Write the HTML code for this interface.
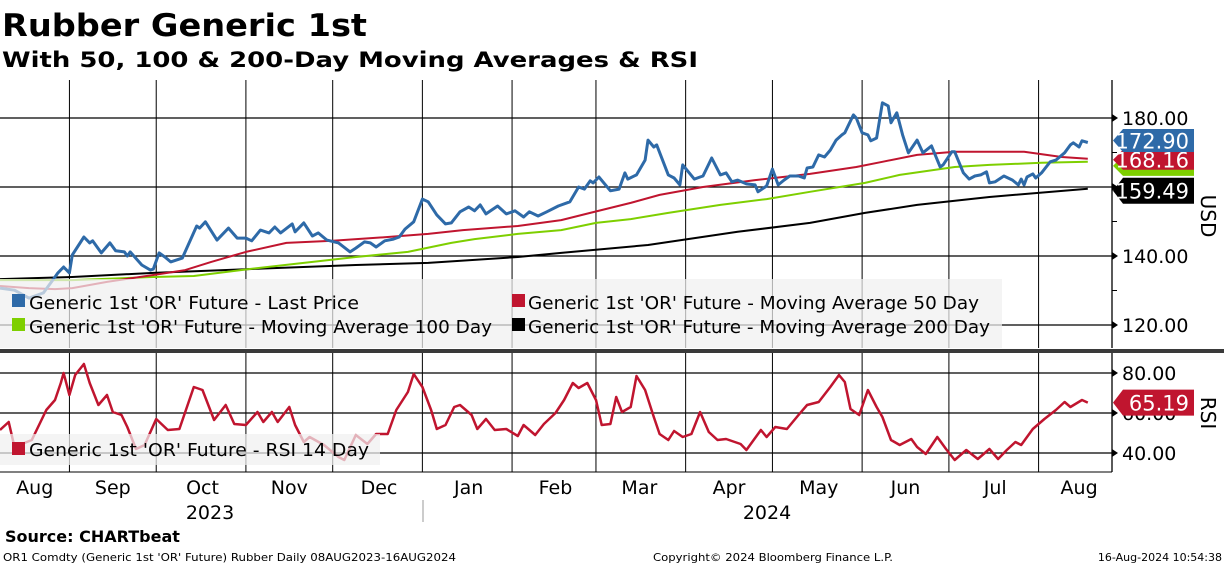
<!DOCTYPE html>
<html><head><meta charset="utf-8"><style>
body{margin:0;background:#fff;}
svg{display:block;font-family:"DejaVu Sans","Liberation Sans",sans-serif;}
</style></head><body>
<svg id="chart" width="1224" height="566" viewBox="0 0 1224 566" xmlns="http://www.w3.org/2000/svg">
<text x="2" y="36" font-size="31" font-weight="bold" textLength="365" lengthAdjust="spacingAndGlyphs">Rubber Generic 1st</text>
<text x="2" y="67" font-size="21" font-weight="bold" textLength="696" lengthAdjust="spacingAndGlyphs">With 50, 100 &amp; 200-Day Moving Averages &amp; RSI</text>
<g id="grid"></g>
<g id="series"></g>
<g id="legend1">
<rect x="0" y="279" width="1002" height="69" fill="#f0f0f0" fill-opacity="0.72"/>
<rect x="12" y="294" width="13" height="13" fill="#2e6aa8"/>
<text x="29" y="309" font-size="18" textLength="330" lengthAdjust="spacingAndGlyphs">Generic 1st 'OR' Future - Last Price</text>
<rect x="12" y="318" width="13" height="13" fill="#7ecf00"/>
<text x="29" y="333" font-size="18" textLength="463" lengthAdjust="spacingAndGlyphs">Generic 1st 'OR' Future - Moving Average 100 Day</text>
<rect x="512" y="294" width="13" height="13" fill="#c0152f"/>
<text x="528" y="309" font-size="18" textLength="451" lengthAdjust="spacingAndGlyphs">Generic 1st 'OR' Future - Moving Average 50 Day</text>
<rect x="512" y="318" width="13" height="13" fill="#000"/>
<text x="528" y="333" font-size="18" textLength="462" lengthAdjust="spacingAndGlyphs">Generic 1st 'OR' Future - Moving Average 200 Day</text>
</g>
<g id="legend2">
<rect x="0" y="434" width="380" height="31" fill="#f0f0f0" fill-opacity="0.72"/>
<rect x="12" y="442" width="13" height="13" fill="#c0152f"/>
<text x="29" y="456" font-size="18" textLength="340" lengthAdjust="spacingAndGlyphs">Generic 1st 'OR' Future - RSI 14 Day</text>
</g>
<rect x="0" y="349" width="1224" height="4" fill="#3a3a3a"/>
<g id="axes"></g>
<text transform="translate(1201,216) rotate(90)" font-size="20" text-anchor="middle">USD</text>
<text transform="translate(1201,413) rotate(90)" font-size="20" text-anchor="middle">RSI</text>
<line x1="423" y1="500" x2="423" y2="522" stroke="#999"/>
<text x="210" y="519" font-size="19" text-anchor="middle">2023</text>
<text x="767" y="519" font-size="19" text-anchor="middle">2024</text>
<text x="5" y="542" font-size="16" font-weight="bold">Source: CHARTbeat</text>
<text x="3" y="561" font-size="11" textLength="453" lengthAdjust="spacingAndGlyphs">OR1 Comdty (Generic 1st 'OR' Future) Rubber  Daily 08AUG2023-16AUG2024</text>
<text x="653" y="561" font-size="11" textLength="240" lengthAdjust="spacingAndGlyphs">Copyright© 2024 Bloomberg Finance L.P.</text>
<text x="1222" y="561" font-size="11" text-anchor="end">16-Aug-2024 10:54:38</text>
</svg>
<script>
const priceDays=[0,5,10,15,19,20,22,24,25,29,31,32,35,38,40,43,44,45,49,52,53,55,57,59,63,68,69,71,75,79,82,85,87,90,93,95,97,101,102,105,108,110,113,117,121,123,126,128,130,133,136,138,140,143,146,148,151,154,156,159,162,164,166,168,172,175,178,181,183,186,189,193,197,200,202,204,205,207,211,214,216,217,220,223,224,226,227,231,233,235,236,240,242,243,246,249,251,253,255,258,261,262,265,267,269,271,273,276,278,279,281,283,285,287,289,291,292,295,296,298,300,301,303,305,307,308,310,312,314,317,319,322,325,326,329,330,333,335,337,339,341,342,344,347,350,352,353,354,355,357,358,360,363,365,368,370,371,373,374,376];
const priceVals=[130.7,130.1,127.8,129.3,133.9,135.1,136.8,135.1,140.3,145.5,143.8,144.4,140.9,143.8,141.5,141.2,140.0,141.2,137.4,135.9,136.2,140.9,139.7,138.3,139.4,148.7,148.1,149.9,144.6,148.1,145.2,145.2,144.4,147.5,146.7,148.4,146.7,149.3,147.0,149.6,145.8,146.7,144.6,143.8,141.2,142.3,144.1,143.8,142.6,144.4,144.9,145.5,147.8,149.9,156.5,155.7,151.9,149.3,149.6,152.8,154.2,153.1,154.8,152.2,154.5,152.2,153.1,151.3,152.8,151.6,152.8,154.5,155.7,160.0,159.4,161.8,161.2,162.9,158.9,159.4,164.1,162.3,163.5,167.8,173.6,171.6,172.2,163.5,162.6,160.6,166.4,162.3,162.9,163.2,168.4,163.5,164.1,161.5,162.0,160.9,160.6,158.6,160.3,165.2,160.6,162.0,163.2,163.2,162.6,165.5,165.8,169.3,168.7,170.7,173.6,175.1,175.7,180.9,180.0,175.7,175.1,173.4,174.2,184.4,183.5,178.6,181.5,175.1,169.9,173.6,169.9,171.9,165.8,166.4,170.2,170.2,164.1,162.3,163.2,163.5,164.4,161.2,161.5,163.2,162.0,160.6,162.3,160.6,162.9,163.8,162.6,164.1,167.3,167.8,169.9,172.2,172.8,171.6,173.4,172.9];
const ma50Days=[0,10,19,25,37,53,64,73,85,99,115,134,148,160,179,194,204,218,228,243,261,280,296,305,317,330,354,367,376];
const ma50Vals=[131.3,130.7,130.4,130.7,132.5,134.5,135.9,138.3,141.2,143.8,144.4,145.5,146.4,147.5,148.7,150.4,152.5,155.4,157.7,160.0,162.0,163.8,165.8,167.3,169.3,170.2,170.2,168.7,168.2];
const ma100Days=[0,25,53,67,86,105,123,141,156,164,179,194,206,218,231,249,265,280,299,311,330,342,360,376];
const ma100Vals=[133.0,133.0,133.9,134.2,136.2,138.0,139.7,141.2,143.8,144.9,146.4,147.5,149.6,150.7,152.5,154.8,156.5,158.6,161.2,163.5,165.8,166.4,167.0,167.3];
const ma200Days=[0,25,53,86,123,148,179,194,224,255,280,299,317,342,376];
const ma200Vals=[133.3,133.9,135.1,136.2,137.4,138.0,139.7,140.9,143.2,147.0,149.6,152.5,154.8,157.1,159.5];
const rsiDays=[0,3,5,11,16,19,21,22,24,26,29,31,34,37,39,42,44,47,50,54,58,62,67,70,74,78,81,85,89,91,94,96,100,102,105,107,112,117,119,123,127,130,134,137,141,143,146,149,151,154,157,159,163,165,168,171,175,179,181,185,188,192,195,198,200,203,206,208,211,213,215,218,220,223,226,228,231,233,236,239,242,245,248,251,254,256,258,260,263,265,268,272,276,279,283,287,290,292,294,297,300,303,305,308,311,315,317,320,324,327,330,334,338,342,345,348,351,353,357,361,365,368,370,374,376];
const rsiVals=[51.5,55.5,43,46.5,61.5,66.5,75,80,69,79,84.5,75,64,69,60.5,59,53,42,44,57,51.5,52,73,71.5,56.5,64,54.5,54,60.5,55.5,60.5,55.5,63,54,45.5,48,44,38,36.5,49,44.5,49.5,49.5,61.5,70.5,79.5,73,61.5,52,54,63,64,59,52,57,51.5,52,48.5,54,49,54.5,60,66.5,75,72.5,75,66.5,54,54.5,68,60.5,63,78.5,71.5,58,49.5,46.5,51,48,49.5,60.5,50.5,46.5,47,45.5,44.5,41.5,45.5,51.5,48,53,52,59,64,65.5,73,79,75.5,62,59,71.5,63,58,46.5,44,47,43,39.5,48,42,36.5,41.5,37,42,37,41.5,45.5,44,52,57,61.5,65.5,63,66.5,65.2];
const priceTicks=[180,160,140,120];
const priceMinor=[170,150,130];
const rsiTicks=[80,60,40];
const monthLabels=["Aug","Sep","Oct","Nov","Dec","Jan","Feb","Mar","Apr","May","Jun","Jul","Aug"];
const monthStartDays=[24,54,85,115,146,177,206,237,267,298,328,359];
const monthMidDays=[12,39,70,100,131,162,192,221,252,283,313,344,373];

const NS="http://www.w3.org/2000/svg";
const PL=0,PR=1112;
const xS=d=>PL+d*2.893;
const yP=v=>256-(v-140)*3.45;
const yR=v=>413-(v-60)*2;
function mk(tag,attrs,parent){const e=document.createElementNS(NS,tag);for(const k in attrs)e.setAttribute(k,attrs[k]);parent.appendChild(e);return e;}
const grid=document.getElementById('grid'),series=document.getElementById('series'),axes=document.getElementById('axes');
// vertical gridlines
monthStartDays.forEach(d=>{
  const l=mk('line',{x1:xS(d),x2:xS(d),y1:80,y2:348,stroke:'#000','stroke-width':1},grid);
  
  
  const l2=mk('line',{x1:xS(d),x2:xS(d),y1:353,y2:472,stroke:'#000','stroke-width':1},grid);
  
  
});
priceTicks.forEach(v=>{
  const l=mk('line',{x1:PL,x2:PR,y1:yP(v),y2:yP(v),stroke:'#000','stroke-width':1.3},grid);
  
  
  const t=mk('text',{x:1122,y:yP(v)+7,'font-size':19},axes);t.textContent=v.toFixed(2);
  
  
  mk('path',{d:`M${PR} ${yP(v)-4}L${PR+6} ${yP(v)}L${PR} ${yP(v)+4}Z`,fill:'#000'},axes);
});
priceMinor.forEach(v=>{mk('line',{x1:PR,x2:PR+5,y1:yP(v),y2:yP(v),stroke:'#000'},axes);});
rsiTicks.forEach(v=>{
  const l=mk('line',{x1:PL,x2:PR,y1:yR(v),y2:yR(v),stroke:'#000','stroke-width':1.3},grid);
  
  
  const t=mk('text',{x:1122,y:yR(v)+7,'font-size':19},axes);t.textContent=v.toFixed(2);
  
  
  mk('path',{d:`M${PR} ${yR(v)-4}L${PR+6} ${yR(v)}L${PR} ${yR(v)+4}Z`,fill:'#000'},axes);
});
mk('line',{x1:PR,x2:PR,y1:80,y2:348,stroke:'#000','stroke-width':1.3},axes);
mk('line',{x1:PR,x2:PR,y1:353,y2:472,stroke:'#000','stroke-width':1.3},axes);
mk('line',{x1:0,x2:PR,y1:472,y2:472,stroke:'#000','stroke-width':1},axes);
monthLabels.forEach((m,i)=>{
  const t=mk('text',{x:xS(monthMidDays[i]),y:494,'font-size':19,'text-anchor':'middle'},axes);t.textContent=m;
  
  
});
function line(days,vals,ys,color,w,name){
  const d=days.map((dd,i)=>(i?'L':'M')+xS(dd).toFixed(1)+' '+ys(vals[i]).toFixed(1)).join('');
  const p=mk('path',{d:d,fill:'none',stroke:color,'stroke-width':w,'stroke-linejoin':'round'},series);
  
  
}
line(ma200Days,ma200Vals,yP,'#000',2,'ma200-line');
line(ma100Days,ma100Vals,yP,'#7ecf00',2,'ma100-line');
line(ma50Days,ma50Vals,yP,'#c0152f',2,'ma50-line');
line(priceDays,priceVals,yP,'#2e6aa8',3,'last-price-line');
line(rsiDays,rsiVals,yR,'#c0152f',2.5,'rsi-line');
function badge(y,txt,fill,name,h){
  const g=mk('g',{},axes);
  
  
  mk('path',{d:`M1113 ${y}L1123 ${y-h/2}L1194 ${y-h/2}L1194 ${y+h/2}L1123 ${y+h/2}Z`,fill:fill},g);
  const t=mk('text',{x:1189,y:y+8,'font-size':21,fill:'#fff','text-anchor':'end'},g);t.textContent=txt;
}
badge(yP(ma100Vals[ma100Vals.length-1])+4,'',' #7ecf00','ma100-badge',20);
badge(yP(ma50Vals[ma50Vals.length-1])+1,ma50Vals[ma50Vals.length-1].toFixed(2).replace('168.20','168.16'),'#c0152f','ma50-badge',20);
badge(yP(priceVals[priceVals.length-1])-2,'172.90','#2e6aa8','last-price-badge',23);
badge(yP(ma200Vals[ma200Vals.length-1])+2,'159.49','#000','ma200-badge',26);
badge(yR(rsiVals[rsiVals.length-1]),'65.19','#c0152f','rsi-badge',26);
// bring legends above series
const svg=document.getElementById('chart');
svg.insertBefore(series,document.getElementById('legend1'));
</script>
</body></html>
